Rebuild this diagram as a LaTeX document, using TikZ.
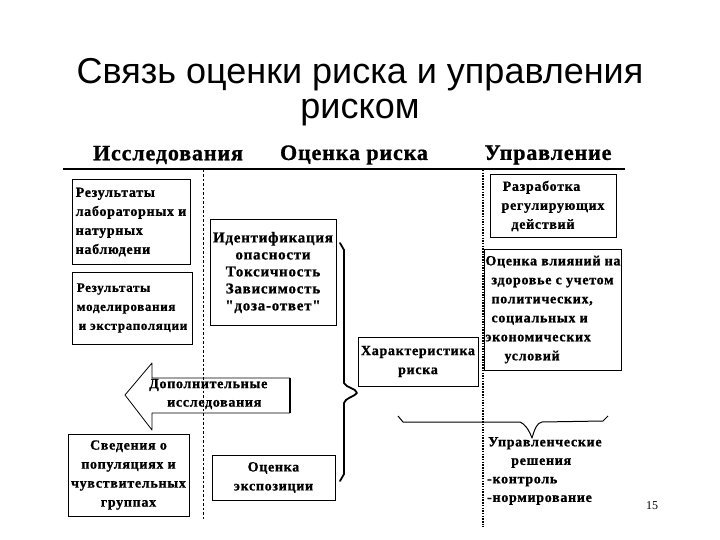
\documentclass[tikz,border=0pt]{standalone}
\usepackage{fontspec}
\setmainfont{Liberation Serif}
\newfontfamily\titlefont{Liberation Sans}
\newfontfamily\boxfont[LetterSpace=5,FakeBold=1]{Liberation Serif Bold}
\newfontfamily\hdrfont[LetterSpace=4,FakeBold=1]{Liberation Serif Bold}
\begin{document}
\begin{tikzpicture}[x=1pt,y=-1pt,
  box/.style={draw, line width=1pt, inner sep=1pt,
    font=\boxfont\fontsize{14}{19}\selectfont},
  hdr/.style={font=\hdrfont\fontsize{22}{24}\selectfont, inner sep=0pt},
  lbl/.style={font=\boxfont\fontsize{14}{18.5}\selectfont, inner sep=0pt},
  brace/.style={line width=1.8pt, line cap=round, line join=round}]
\useasboundingbox (0,0) rectangle (720,540);
\fill[white] (0,0) rectangle (720,540);

% title
\node[font=\titlefont\fontsize{36}{35}\selectfont, align=center, inner sep=0pt] (title) at (360,92)
  {Связь оценки риска и управления\\риском};

% headers
\node[hdr] (h1) at (168,155) {Исследования};
\node[hdr] (h2) at (354,155) {Оценка риска};
\node[hdr] (h3) at (548,155) {Управление};
\coordinate (ul) at (63,169);
\coordinate (ur) at (625,169);
\draw[line width=1.3pt] (ul) -- (ur);

% dashed separators
\coordinate (d1t) at (203,170); \coordinate (d1b) at (203,520);
\coordinate (d2t) at (483,170); \coordinate (d2b) at (483,527);
\draw[line width=0.8pt, dash pattern=on 2.5pt off 2pt] (d1t) -- (d1b);
\draw[line width=1.3pt, dash pattern=on 1.5pt off 1.2pt] (d2t) -- (d2b);

% left column
\node[box, minimum width=118pt, minimum height=84pt, align=left] (b1) at (131,222)
  {Результаты\\лабораторных и\\натурных\\наблюдени};
\node[box, minimum width=120pt, minimum height=72pt, align=left,
  font=\boxfont\fontsize{13}{19}\selectfont] (b2) at (132,308)
  {Результаты\\моделирования\\\hspace*{2pt}и экстраполяции};
\node[box, minimum width=121pt, minimum height=82pt, align=center] (b8) at (128.5,475)
  {Сведения о\\популяциях и\\чувствительных\\группах};

% middle column
\node[box, minimum width=126pt, minimum height=105pt, align=center,
  font=\boxfont\fontsize{15}{17}\selectfont] (b3) at (273,272.5)
  {Идентификация\\опасности\\Токсичность\\Зависимость\\"доза-ответ"};
\node[box, minimum width=123pt, minimum height=45pt, align=center] (b9) at (273.5,477.5)
  {Оценка\\экспозиции};
\node[box, minimum width=120pt, minimum height=49pt, align=center] (b4) at (418,361.5)
  {Характеристика\\риска};

% right column
\node[box, minimum width=126pt, minimum height=62pt, align=center] (b5) at (553,206)
  {\hspace*{-23pt}Разработка\\регулирующих\\\hspace*{-20pt}действий};
\node[box, minimum width=136pt, minimum height=121pt, align=left] (b6) at (553,309.5)
  {Оценка влияний на\\\hspace*{6pt}здоровье с учетом\\\hspace*{6pt}политических,\\\hspace*{6pt}социальных и\\экономических\\\hspace*{19pt}условий};

% arrow "Дополнительные исследования"
\coordinate (a1) at (290,378);
\coordinate (a2) at (152,378);
\coordinate (a3) at (152,363);
\coordinate (a4) at (125,395);
\coordinate (a5) at (152,430);
\coordinate (a6) at (152,413);
\coordinate (a7) at (290,413);
\draw[line width=0.8pt, line join=round] (a1) -- (a2) -- (a3) -- (a4) -- (a5) -- (a6) -- (a7);
\draw[line width=2pt] (a7) -- (a1);
\node[lbl, align=left, anchor=west] (arr) at (149,394) {Дополнительные\\\hspace*{18pt}исследования};

% vertical brace
\coordinate (v1) at (340,243);
\coordinate (v2) at (344,250);
\coordinate (v3) at (344,383);
\coordinate (vt) at (357,393);
\coordinate (v4) at (344,403);
\coordinate (v5) at (344,474);
\coordinate (v6) at (340,481);
\draw[brace] (v1) -- (v2) -- (v3) .. controls (346,388) and (356,388) .. (vt)
  .. controls (354,397) and (345,398) .. (v4) -- (v5) -- (v6);

% horizontal brace
\coordinate (hb1) at (398,416);
\coordinate (hb2) at (403,422);
\coordinate (hb3) at (520,422);
\coordinate (hbt) at (532,438);
\coordinate (hb4) at (542,422);
\coordinate (hb5) at (603,421);
\coordinate (hb6) at (608,416);
\draw[line width=1pt, line join=round] (hb1) -- (hb2) -- (hb3)
  .. controls (525,424) and (529,430) .. (hbt)
  .. controls (535,428) and (537,423) .. (hb4) -- (hb5) -- (hb6);

% decisions
\node[lbl, align=left, anchor=north west] (dec) at (487,437)
  {\hspace*{1pt}Управленческие\\\hspace*{24pt}решения\\-контроль\\-нормирование};

% page number
\node[font=\fontsize{12}{14}\selectfont, inner sep=0pt] (pg) at (652,506) {15};
\end{tikzpicture}
\end{document}
